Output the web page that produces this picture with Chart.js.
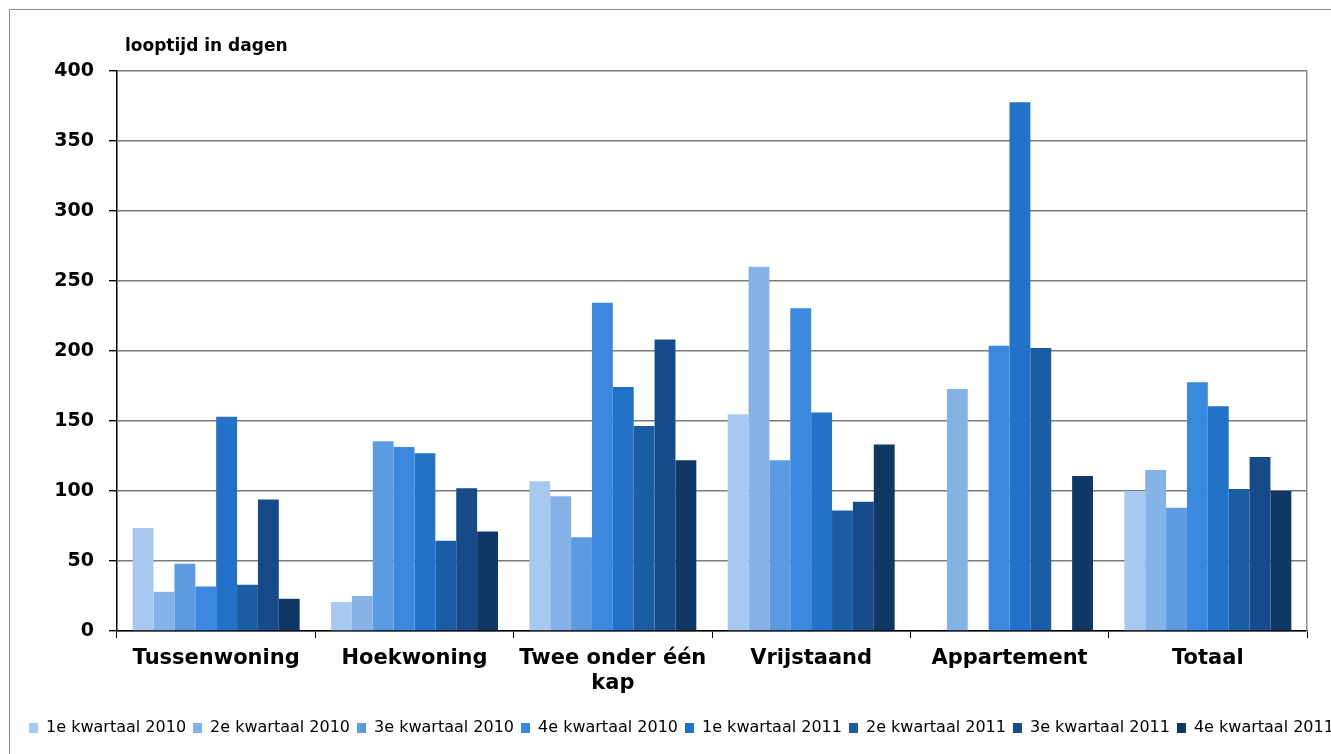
<!DOCTYPE html>
<html>
<head>
<meta charset="utf-8">
<script src="https://cdn.jsdelivr.net/npm/chart.js@4/dist/chart.umd.min.js"></script>
<style>
  html, body { margin: 0; padding: 0; background: #fff; overflow: hidden; }
  #wrap { width: 1363px; height: 754px; }
</style>
</head>
<body>
<div id="wrap"><canvas id="looptijdChart"></canvas></div>
<script>
// Looptijd in dagen per woningtype, per kwartaal
const categories = ['Tussenwoning', 'Hoekwoning', ['Twee onder één', 'kap'], 'Vrijstaand', 'Appartement', 'Totaal'];
const seriesNames = ['1e kwartaal 2010', '2e kwartaal 2010', '3e kwartaal 2010', '4e kwartaal 2010',
                     '1e kwartaal 2011', '2e kwartaal 2011', '3e kwartaal 2011', '4e kwartaal 2011'];

const q1_2010 = [73.5, 20.7, 107, 154.8, 0, 100];
const q2_2010 = [28, 25, 96.2, 260.2, 172.8, 115];
const q3_2010 = [48, 135.5, 67, 122, 0, 88];
const q4_2010 = [31.7, 131.4, 234.5, 230.5, 203.8, 177.6];
const q1_2011 = [153, 127, 174.3, 156, 377.6, 160.5];
const q2_2011 = [33, 64.5, 146.4, 86, 202.2, 101.4];
const q3_2011 = [94, 102, 208.3, 92.4, 0, 124.3];
const q4_2011 = [23, 71, 122, 133.3, 110.8, 100];

const yTicks = [0, 50, 100, 150, 200, 250, 300, 350, 400];

const allSeries = [q1_2010, q2_2010, q3_2010, q4_2010, q1_2011, q2_2011, q3_2011, q4_2011];
const colors = ['#A7C9F0', '#85B3E8', '#5B9BE2', '#3A89DF', '#2272C9', '#1B5DA5', '#174A88', '#0F3866'];

const FONT = "'DejaVu Sans', sans-serif";

// kader + as-titel
const framePlugin = {
    id: 'frame',
    beforeDraw(chart) {
        const ctx = chart.ctx;
        ctx.save();
        ctx.fillStyle = '#ffffff';
        ctx.fillRect(0, 0, chart.width, chart.height);
        ctx.strokeStyle = '#8a8a8a';
        ctx.lineWidth = 1;
        ctx.strokeRect(9.5, 9.5, chart.width + 20, chart.height + 20);
        ctx.restore();
    },
    afterDraw(chart) {
        const ctx = chart.ctx;
        ctx.save();
        ctx.font = 'bold 17px ' + FONT;
        ctx.fillStyle = '#000';
        ctx.textBaseline = 'alphabetic';
        ctx.fillText('looptijd in dagen', chart.chartArea.left + 8, 51);
        ctx.restore();
    }
};

const ctx = document.getElementById('looptijdChart').getContext('2d');
const chart = new Chart(ctx, {
    type: 'bar',
    data: {
        labels: categories,
        datasets: allSeries.map((vals, i) => ({
            label: seriesNames[i],
            data: vals,
            backgroundColor: colors[i],
            borderWidth: 0,
            barPercentage: 1.0,
            categoryPercentage: 0.842
        }))
    },
    options: {
        responsive: true,
        maintainAspectRatio: false,
        animation: false,
        layout: { padding: { top: 71, left: 0, right: 0, bottom: 8 } },
        plugins: {
            legend: {
                position: 'bottom',
                align: 'center',
                labels: {
                    boxWidth: 9,
                    boxHeight: 10,
                    padding: 7,
                    color: '#000',
                    font: { family: FONT, size: 16 }
                }
            },
            tooltip: { enabled: false }
        },
        scales: {
            x: {
                offset: true,
                grid: {
                    display: true,
                    offset: true,
                    drawOnChartArea: false,
                    drawTicks: true,
                    tickLength: 7,
                    color: '#000'
                },
                border: { display: true, color: '#000', width: 1.5 },
                ticks: {
                    color: '#000',
                    padding: 8,
                    maxRotation: 0,
                    autoSkip: false,
                    font: { family: FONT, size: 21, weight: 'bold', lineHeight: 1.2 }
                },
                afterFit(scale) { scale.height = 82; }
            },
            y: {
                min: 0,
                max: 400,
                afterBuildTicks(scale) { scale.ticks = yTicks.map(v => ({ value: v })); },
                grid: {
                    color: '#7a7a7a',
                    lineWidth: 1.4,
                    tickLength: 8,
                    tickColor: '#000'
                },
                border: { display: true, color: '#000', width: 1.5 },
                ticks: {
                    color: '#000',
                    padding: 15,
                    font: { family: FONT, size: 19, weight: 'bold' }
                },
                afterFit(scale) { scale.width = 117; }
            },
            y2: {
                position: 'right',
                min: 0,
                max: 400,
                grid: { display: false, drawTicks: false },
                border: { display: true, color: '#8c8c8c', width: 1.5 },
                ticks: { display: false },
                afterFit(scale) { scale.width = 56; }
            }
        }
    },
    plugins: [framePlugin]
});
</script>
</body>
</html>
